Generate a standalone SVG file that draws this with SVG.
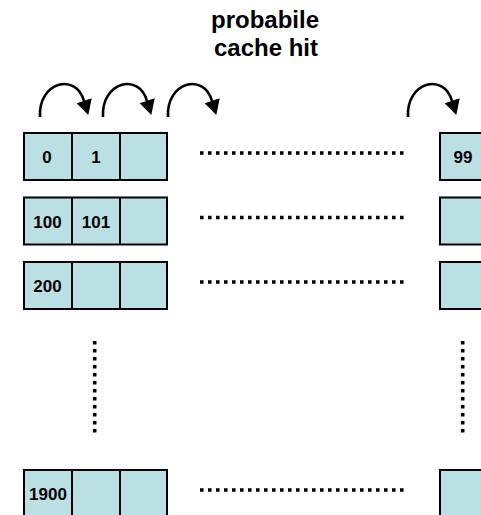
<svg xmlns="http://www.w3.org/2000/svg" xmlns:xlink="http://www.w3.org/1999/xlink" width="481" height="515" viewBox="0 0 481 515">
<style>
.cell{fill:#bbe0e3;stroke:#000;stroke-width:2}
.div{stroke:#000;stroke-width:2}
.lbl{font-family:"Liberation Sans",Arial,sans-serif;font-weight:bold;font-size:17px;text-anchor:middle;fill:#000}
.title{font-family:"Liberation Sans",Arial,sans-serif;font-weight:bold;font-size:24px;text-anchor:middle;fill:#000}
.dots{stroke:#000;stroke-width:3.6;stroke-dasharray:3.6 4.4;fill:none}
.arc{fill:none;stroke:#000;stroke-width:2.6}
</style>
<defs>
<g id="arrow">
<path class="arc" d="M40,117 C38,82 76,72 84,101"/>
<polygon points="76.7,103.3 91.7,98.3 88.3,115" fill="#000"/>
</g>
</defs>
<rect width="481" height="515" fill="#fff"/>
<g id="title">
<text class="title" x="265" y="28">probabile</text>
<text class="title" x="266" y="56">cache hit</text>
</g>
<g id="connectors">
<use xlink:href="#arrow"/>
<use xlink:href="#arrow" transform="translate(63,0)"/>
<use xlink:href="#arrow" transform="translate(128,0)"/>
<use xlink:href="#arrow" transform="translate(368,0)"/>
<line class="dots" x1="200" y1="153" x2="404" y2="153"/>
<line class="dots" x1="200" y1="217.5" x2="404" y2="217.5"/>
<line class="dots" x1="200" y1="282" x2="404" y2="282"/>
<line class="dots" x1="200" y1="490" x2="404" y2="490"/>
<line class="dots" x1="94.7" y1="341" x2="94.7" y2="437"/>
<line class="dots" x1="462.7" y1="341" x2="462.7" y2="437"/>
</g>
<g id="row0">
<rect class="cell" x="24" y="133" width="143" height="47"/>
<line class="div" x1="72" y1="133" x2="72" y2="180"/>
<line class="div" x1="120" y1="133" x2="120" y2="180"/>
<text class="lbl" x="47" y="163">0</text>
<text class="lbl" x="96" y="163">1</text>
</g>
<g id="row1">
<rect class="cell" x="24" y="197.5" width="143" height="47"/>
<line class="div" x1="72" y1="197.5" x2="72" y2="244.5"/>
<line class="div" x1="120" y1="197.5" x2="120" y2="244.5"/>
<text class="lbl" x="47.5" y="227.5">100</text>
<text class="lbl" x="96" y="227.5">101</text>
</g>
<g id="row2">
<rect class="cell" x="24" y="262" width="143" height="47"/>
<line class="div" x1="72" y1="262" x2="72" y2="309"/>
<line class="div" x1="120" y1="262" x2="120" y2="309"/>
<text class="lbl" x="47.5" y="292">200</text>
</g>
<g id="row19">
<rect class="cell" x="24" y="470" width="143" height="47"/>
<line class="div" x1="72" y1="470" x2="72" y2="517"/>
<line class="div" x1="120" y1="470" x2="120" y2="517"/>
<text class="lbl" x="48" y="500">1900</text>
</g>
<g id="col99">
<rect class="cell" x="440" y="133" width="48" height="47"/>
<text class="lbl" x="463" y="163">99</text>
</g>
<g id="col199">
<rect class="cell" x="440" y="197.5" width="48" height="47"/>
</g>
<g id="col299">
<rect class="cell" x="440" y="262" width="48" height="47"/>
</g>
<g id="col1999">
<rect class="cell" x="440" y="470" width="48" height="47"/>
</g>
</svg>
